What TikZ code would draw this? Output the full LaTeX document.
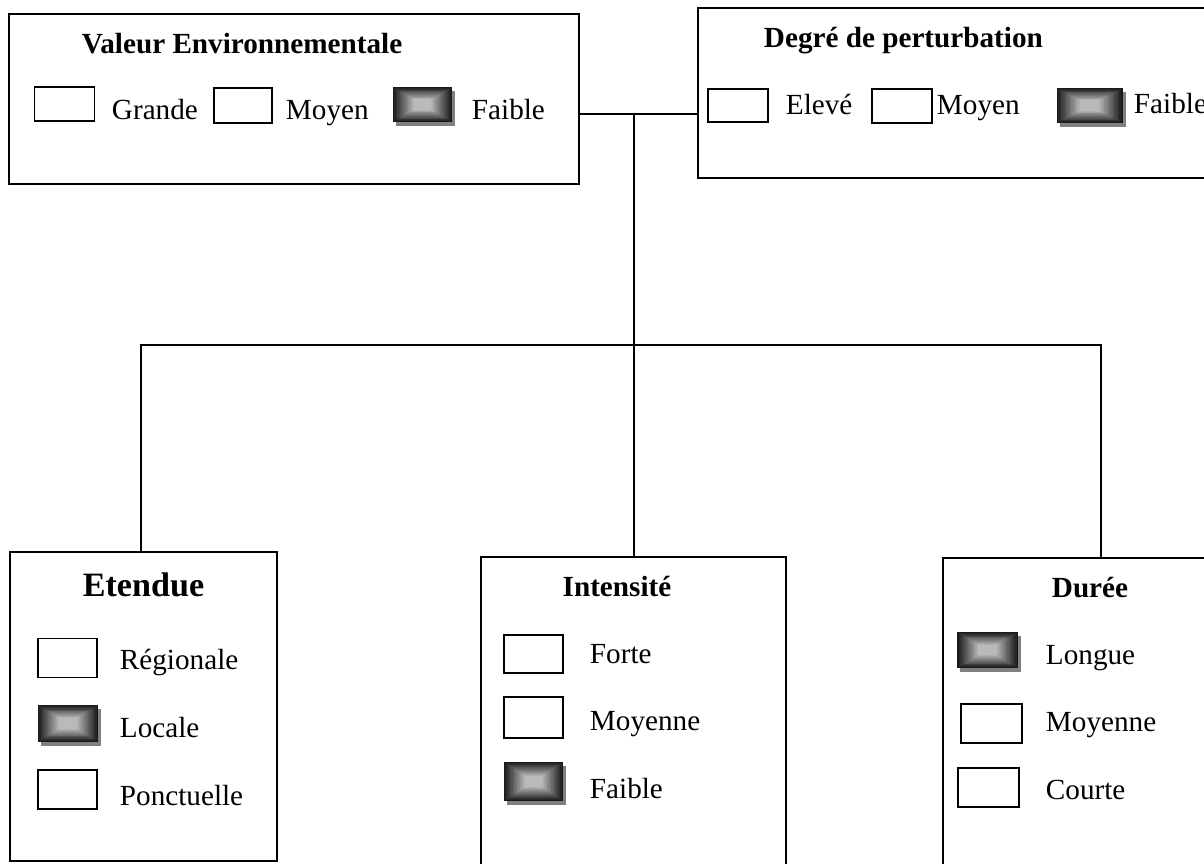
\documentclass[tikz,border=0pt]{standalone}
\usepackage{fontspec}
\setmainfont{Liberation Serif}
\usetikzlibrary{calc}
\usetikzlibrary{shadows}

\begin{document}
\begin{tikzpicture}
[x=0.01cm,y=-0.01cm,line width=0.55pt,%
  cadre/.style={shape=rectangle,inner sep=0,draw},%
  choix/.style={shape=rectangle,inner sep=0,draw,line width=0.5pt},%
  coche/.style={shape=rectangle,inner sep=0,fill=black!90,
    drop shadow={shadow xshift=0.03cm,shadow yshift=-0.04cm,fill=black!50,opacity=1},
    path picture={
      \foreach \k [evaluate=\k as \lev using int(90-4.5*\k)] in {0,...,14}
        \fill[black!\lev]
          ($(path picture bounding box.center)!{1-\k/20}!(path picture bounding box.south west)$)
          rectangle
          ($(path picture bounding box.center)!{1-\k/20}!(path picture bounding box.north east)$);}},%
  etiq/.style={inner sep=0,anchor=base west},%
  titre/.style={inner sep=0,anchor=base,font=\bfseries}]
\fontsize{8.3}{10}\selectfont
\path[use as bounding box] (0,0) rectangle (1204,863);
\clip (0,0) rectangle (1204,863);

\node[cadre,minimum width=5.70cm,minimum height=1.70cm] (valeur) at (294,99) {};
\node[cadre,minimum width=5.17cm,minimum height=1.70cm] (perturb) at (956.5,93) {};
\node[cadre,minimum width=2.67cm,minimum height=3.09cm] (etendue) at (143.5,706.5) {};
\node[cadre,minimum width=3.05cm,minimum height=3.23cm] (intensite) at (633.5,718.5) {};
\node[cadre,minimum width=2.72cm,minimum height=3.22cm] (duree) at (1079,719) {};

\node[titre,anchor=base west] (valeurT) at (81,53) {Valeur Environnementale};
\node[titre,anchor=base west] (perturbT) at (763,47) {Degré de perturbation};
\node[titre,font=\bfseries\fontsize{9.7}{12}\selectfont] (etendueT) at (143.5,596) {Etendue};
\node[titre] (intensiteT) at (617,596) {Intensité};
\node[titre] (dureeT) at (1090,597) {Durée};

% valeur environnementale
\node[choix,minimum width=0.60cm,minimum height=0.34cm] (grande) at (64.5,104) {};
\node[etiq] (grandeL) at (111,119) {Grande};
\node[choix,minimum width=0.58cm,minimum height=0.35cm] (moyenV) at (243,105.5) {};
\node[etiq] (moyenVL) at (285,119) {Moyen};
\node[coche,minimum width=0.59cm,minimum height=0.35cm] (faibleV) at (422.5,104.5) {};
\node[etiq] (faibleVL) at (471,119) {Faible};

% degre de perturbation
\node[choix,minimum width=0.60cm,minimum height=0.33cm] (eleve) at (738,105.5) {};
\node[etiq] (eleveL) at (785,114) {Elevé};
\node[choix,minimum width=0.60cm,minimum height=0.34cm] (moyenP) at (902,106) {};
\node[etiq] (moyenPL) at (936,114) {Moyen};
\node[coche,minimum width=0.66cm,minimum height=0.35cm] (faibleP) at (1089.5,105.5) {};
\node[etiq] (faiblePL) at (1133,113) {Faible};

% etendue
\node[choix,minimum width=0.59cm,minimum height=0.39cm] (regionale) at (67.5,658) {};
\node[etiq] (regionaleL) at (119,669) {Régionale};
\node[coche,minimum width=0.60cm,minimum height=0.37cm] (locale) at (68,723.5) {};
\node[etiq] (localeL) at (119,737) {Locale};
\node[choix,minimum width=0.59cm,minimum height=0.39cm] (ponctuelle) at (67.5,789.5) {};
\node[etiq] (ponctuelleL) at (119,805) {Ponctuelle};

% intensite
\node[choix,minimum width=0.59cm,minimum height=0.38cm] (forte) at (533.5,654) {};
\node[etiq] (forteL) at (589,663) {Forte};
\node[choix,minimum width=0.59cm,minimum height=0.41cm] (moyenneI) at (533.5,717.5) {};
\node[etiq] (moyenneIL) at (589,730) {Moyenne};
\node[coche,minimum width=0.59cm,minimum height=0.39cm] (faibleI) at (533.5,781.5) {};
\node[etiq] (faibleIL) at (589,798) {Faible};

% duree
\node[coche,minimum width=0.61cm,minimum height=0.36cm] (longue) at (987.5,650) {};
\node[etiq] (longueL) at (1045,664) {Longue};
\node[choix,minimum width=0.61cm,minimum height=0.39cm] (moyenneD) at (991.5,723.5) {};
\node[etiq] (moyenneDL) at (1045,731) {Moyenne};
\node[choix,minimum width=0.61cm,minimum height=0.39cm] (courte) at (988.5,787.5) {};
\node[etiq] (courteL) at (1045,799) {Courte};

\coordinate (jonction) at (634,114);
\coordinate (fourche) at (634,345);
\coordinate (brancheE) at (141,345);
\coordinate (brancheD) at (1101,345);
\draw (valeur.east |- jonction) -- (perturb.west |- jonction);
\draw (jonction) -- (fourche);
\draw (brancheE |- etendue.north) -- (brancheE) -- (brancheD) -- (brancheD |- duree.north);
\draw (fourche) -- (fourche |- intensite.north);
\end{tikzpicture}
\end{document}
